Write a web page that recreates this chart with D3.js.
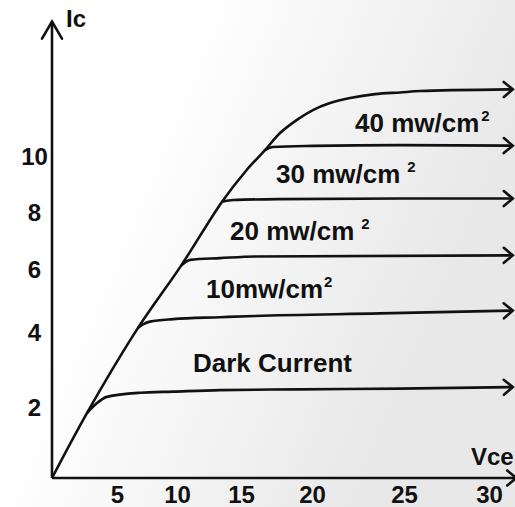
<!DOCTYPE html>
<html>
<head>
<meta charset="utf-8">
<script src="https://cdn.jsdelivr.net/npm/d3@7"></script>
<style>
  body { margin: 0; background: #fff; }
  text { font-family: "Liberation Sans", Arial, sans-serif; font-weight: bold; fill: #111; }
</style>
</head>
<body>
<script>
// tick labels on the axes
const vceTicks = [5, 10, 15, 20, 25, 30];
const icTicks = [2, 4, 6, 8, 10];

// curve points, [Vce, Ic]
// the rising line shared by all curves, going on into the top curve
const riseCurve = [[0, 0], [2.69, 1.83], [6.75, 4.13], [10.31, 6.11], [13.52, 8.37], [15.4, 9.5],
  [16.69, 10.21], [17.75, 10.82], [18.94, 11.29], [20.05, 11.64], [20.98, 11.89], [22.07, 12.07],
  [23.42, 12.21], [24.78, 12.27], [25.98, 12.32], [31.4, 12.38]];
const branch1 = [[2.69, 1.83], [3.38, 2.08], [4.21, 2.27], [6.92, 2.38], [9.67, 2.41], [13.36, 2.45],
  [19.15, 2.47], [24.78, 2.49], [31.4, 2.53]];
const branch2 = [[6.75, 4.13], [7.17, 4.24], [7.75, 4.33], [9.67, 4.41], [13.36, 4.47], [15.99, 4.51],
  [23.7, 4.59], [31.4, 4.68]];
const branch3 = [[10.31, 6.11], [10.63, 6.23], [11.02, 6.32], [13.36, 6.38], [15.99, 6.44], [31.4, 6.48]];
const branch4 = [[13.52, 8.37], [14.38, 8.43], [17.75, 8.46], [24.78, 8.48], [31.4, 8.48]];
const branch5 = [[16.69, 10.21], [17.25, 10.32], [20.05, 10.36], [24.78, 10.39], [31.4, 10.37]];

const curveLabels = ["40 mw/cm", "30 mw/cm", "20 mw/cm", "10mw/cm", "Dark Current"];
const labelSups = ["2", "2", "2", "2", ""];

// layout
const width = 515, height = 507;
const labelPos = [[355, 132], [276, 183], [230, 240], [206, 298], [193, 372]];
const supGap = [2, 7, 7, 1, 0];

// the picture's ticks are not evenly spaced, so both scales are piecewise
const x = d3.scaleLinear()
  .domain([0, 5, 10, 15, 20, 25, 30])
  .range([52, 117, 177, 241, 312, 404, 489]);
const y = d3.scaleLinear()
  .domain([0, 2, 4, 6, 8, 10])
  .range([478, 407, 332, 269, 212, 156]);

const svg = d3.select("body").append("svg")
  .attr("width", width)
  .attr("height", height);

const defs = svg.append("defs");
const grad = defs.append("linearGradient")
  .attr("id", "bg")
  .attr("x1", "40%").attr("y1", "0%")
  .attr("x2", "100%").attr("y2", "25%");
grad.append("stop").attr("offset", "0%").attr("stop-color", "#ffffff");
grad.append("stop").attr("offset", "100%").attr("stop-color", "#e8e8e8");

svg.append("rect")
  .attr("width", width)
  .attr("height", height)
  .attr("fill", "url(#bg)");

function addArrow(id, back, half) {
  defs.append("marker")
    .attr("id", id)
    .attr("markerUnits", "userSpaceOnUse")
    .attr("viewBox", "-30 -30 40 60")
    .attr("markerWidth", 40)
    .attr("markerHeight", 60)
    .attr("refX", 0)
    .attr("refY", 0)
    .attr("orient", "auto")
    .append("path")
      .attr("d", `M${-back},${-half}L0,0L${-back},${half}`)
      .attr("fill", "none")
      .attr("stroke", "#111")
      .attr("stroke-width", 2.6)
      .attr("stroke-linecap", "round")
      .attr("stroke-linejoin", "miter");
}
addArrow("tip", 9, 7.5);
addArrow("tipY", 17, 10);

// AXES
svg.append("line")
  .attr("x1", x(0)).attr("y1", y(0))
  .attr("x2", x(31.6)).attr("y2", y(0))
  .attr("stroke", "#111")
  .attr("stroke-width", 2.6)
  .attr("marker-end", "url(#tip)");

svg.append("line")
  .attr("x1", x(0)).attr("y1", y(0))
  .attr("x2", x(0)).attr("y2", y(14.8))
  .attr("stroke", "#111")
  .attr("stroke-width", 2.6)
  .attr("marker-end", "url(#tipY)");

const xAxis = d3.axisBottom(x)
  .tickValues(vceTicks)
  .tickSize(0)
  .tickPadding(8);

svg.append("g")
  .attr("transform", `translate(0,${y(0)})`)
  .call(xAxis)
  .call(g => g.select(".domain").remove())
  .selectAll("text")
    .attr("font-size", 24)
    .attr("font-family", null);

const yAxis = d3.axisLeft(y)
  .tickValues(icTicks)
  .tickSize(0);

svg.append("g")
  .attr("transform", `translate(${x(0)},0)`)
  .call(yAxis)
  .call(g => g.select(".domain").remove())
  .selectAll("text")
    .attr("x", -17.5)
    .attr("dy", "0.36em")
    .attr("text-anchor", "middle")
    .attr("font-size", 24)
    .attr("font-family", null);

svg.selectAll(".tick text").style("fill", "#111");

svg.append("text")
  .attr("x", 66)
  .attr("y", 27)
  .attr("font-size", 24)
  .text("Ic");

svg.append("text")
  .attr("x", 471)
  .attr("y", 465)
  .attr("font-size", 24)
  .text("Vce");

// CURVES
const riseLine = d3.line()
  .x(d => x(d[0]))
  .y(d => y(d[1]))
  .curve(d3.curveCatmullRom.alpha(0.5));

const branchLine = d3.line()
  .x(d => x(d[0]))
  .y(d => y(d[1]))
  .curve(d3.curveMonotoneX);

svg.append("path")
  .datum(riseCurve)
  .attr("class", "curve")
  .attr("d", riseLine)
  .attr("fill", "none")
  .attr("stroke", "#111")
  .attr("stroke-width", 2.6)
  .attr("marker-end", "url(#tip)");

svg.selectAll("path.branch")
  .data([branch1, branch2, branch3, branch4, branch5])
  .enter()
  .append("path")
    .attr("class", "branch")
    .attr("d", branchLine)
    .attr("fill", "none")
    .attr("stroke", "#111")
    .attr("stroke-width", 2.6)
    .attr("marker-end", "url(#tip)");

// LABELS
const labels = svg.selectAll("text.curveLabel")
  .data(curveLabels)
  .enter()
  .append("text")
    .attr("class", "curveLabel")
    .attr("x", (d, i) => labelPos[i][0])
    .attr("y", (d, i) => labelPos[i][1])
    .attr("font-size", 26);

labels.append("tspan").text(d => d);
labels.append("tspan")
  .attr("dx", (d, i) => supGap[i])
  .attr("dy", -11)
  .attr("font-size", 15)
  .text((d, i) => labelSups[i]);
</script>
</body>
</html>
